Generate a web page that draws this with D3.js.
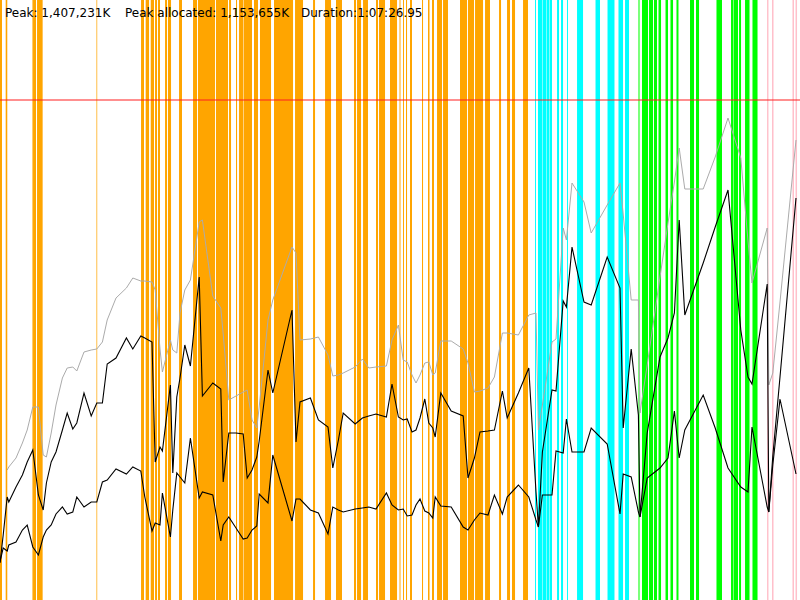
<!DOCTYPE html>
<html>
<head>
<meta charset="utf-8">
<script src="https://cdn.jsdelivr.net/npm/d3@7"></script>
<style>
  html, body { margin: 0; padding: 0; background: #fff; }
  svg { display: block; }
</style>
</head>
<body>
<div id="chart"></div>
<script>
// header figures
const peakK = 1407231
const peakAllocatedK = 1153655
const duration = '1:07:26.95'

// GC pauses, [start, end] as % of run time
const youngGcs = [
  [0, 0.25], [0.71, 0.91], [4.03, 4.1], [4.13, 4.5], [4.63, 5.33], [12.06, 12.15],
  [17.63, 18], [18.21, 18.63], [18.84, 19.25], [19.38, 19.63], [19.75, 20],
  [20.63, 20.88], [21, 21.38], [22.38, 22.75], [24.13, 24.63], [24.75, 26.88],
  [27, 28.5], [28.63, 28.88], [29.5, 29.63], [29.88, 30.38], [30.44, 31.5],
  [31.75, 32.25], [32.5, 33.88], [34.25, 36.63], [36.88, 37.88], [39.13, 39.38],
  [40.63, 41.38], [42, 42.75], [44.25, 44.5], [44.63, 45.13], [45.38, 46],
  [47, 47.25], [47.38, 48.13], [48.75, 49.63], [49.94, 50.06], [50.38, 50.5],
  [50.75, 50.88], [51.25, 51.5], [52.75, 52.88], [53.5, 53.69], [54, 54.25],
  [54.63, 55.25], [55.38, 56], [57.5, 58.38], [58.5, 59.25], [59.38, 60.38],
  [60.63, 61.25], [62.38, 62.63], [63.38, 63.75], [64, 64.38], [65.38, 66]
]
const mixedGcs = [
  [66.88, 67], [67.25, 67.75], [67.81, 68.25], [68.31, 68.63], [68.69, 69],
  [69.63, 69.88], [70.13, 70.38], [70.88, 71], [72.13, 72.88], [74.44, 75],
  [75.94, 76.81], [77.31, 77.88], [78.13, 78.63]
]
const remarkGcs = [
  [79.81, 79.94], [80.25, 81], [81.13, 81.63], [81.75, 82.13], [82.31, 82.63],
  [83.19, 83.5], [83.81, 84.13], [84.56, 84.81], [86.25, 86.75], [87, 87.38],
  [89.56, 90.25], [91.38, 91.69], [91.75, 92.25], [92.38, 92.63], [93.13, 93.69],
  [94.06, 94.69]
]
const fullGcs = [
  [95.88, 96.06], [96.5, 96.69], [99.06, 99.25], [99.44, 99.63]
]

// samples: time (% of run) and heap figures (% of max heap)
const sampleTime = [
  0, 0.4, 0.9, 1.1, 2.0, 2.8, 3.4, 4.1, 4.8, 5.4,
  5.8, 6.4, 7.0, 7.8, 8.4, 9.1, 9.6, 10.5, 11.4, 12.1,
  12.8, 13.4, 14.5, 15.8, 16.6, 17.6, 18.1, 19.0, 19.4, 20.0,
  20.3, 21.3, 21.6, 22.1, 22.5, 23.1, 23.8, 24.9, 25.3, 26.6,
  27.6, 27.9, 28.6, 29.5, 30.4, 30.9, 31.5, 32.1, 32.4, 33.5,
  34.1, 36.5, 37.0, 37.5, 38.8, 39.8, 41.0, 41.6, 42.3, 42.9,
  44.4, 45.3, 46.1, 47.0, 48.3, 49.0, 49.8, 50.4, 50.9, 51.5,
  52.0, 52.5, 53.1, 53.6, 54.1, 54.4, 55.1, 56.4, 57.9, 58.5,
  59.3, 60.0, 61.0, 61.8, 62.8, 63.4, 64.8, 66.1, 67.0, 67.3,
  67.8, 69.0, 69.5, 70.4, 70.8, 71.5, 73.0, 73.9, 75.9, 77.5,
  77.9, 78.9, 79.8, 80.0, 80.9, 82.5, 83.5, 84.3, 84.9, 85.6,
  87.9, 89.4, 91.0, 92.6, 93.5, 94.0, 95.9, 96.1, 96.6, 97.5,
  99.5
]
const committed = [
  null, null, 26, 26.6, 28.4, 31.4, 34, 38.6, 38.6, 29,
  28.6, 33.4, 39, 44.4, 46.4, 46.6, 45.8, 49.6, 50, 50.2,
  51.6, 56, 60.4, 62.4, 64.4, 63.8, 63.8, 63.6, 62, 50.2,
  45.6, 52, 50, 49.4, 57.4, 62, 64, 75.6, 76, 60.8,
  58.4, 53.2, 40, 40.8, 41.6, 42, 36, 34.4, 38.6, 56,
  60, 70.6, 69.4, 52, 52.2, 52.6, 49, 44.8, 45, 45.4,
  46.6, 48.2, 46.4, 46.6, 46.8, 52, 55, 48, 47.6, 45,
  43.4, 45, 47.4, 47.6, 45, 45.4, 51.8, 51.8, 50.2, 47.4,
  41.6, 41.8, 42.4, 44.6, 53.4, 53.4, 53, 57, 57.4, 34,
  39, 51.6, 52.2, 74.4, 72, 83.4, 79.6, 73.4, 79, 83.4,
  77.2, 60, 60, 37.4, 47, 64.6, 75.4, 83.6, 90.4, 82.2,
  82.2, 88.6, 96.4, 88.4, 71.8, 63.4, 74.4, 43, 45.4, 59.6,
  92
]
const used = [
  7.4, 13, 20.6, 19.6, 22.6, 25, 27.6, 30, 21, 18,
  23.4, 27.6, 29.6, 34, 37.4, 34.2, 35.4, 41.4, 36.8, 39.4,
  39.4, 47.2, 48.4, 52.4, 50.2, 52.8, 52.4, 51.6, 27.6, 30.6,
  29.8, 43, 25.4, 40.6, 44.4, 51, 46.8, 64.6, 40.8, 43.4,
  42.2, 23.6, 33.4, 33.4, 33.2, 24.4, 26, 28.6, 31.8, 46,
  41.4, 58, 31.6, 39.6, 40.4, 36, 34.6, 26.4, 32, 37.4,
  35.2, 36.4, 36.8, 37.2, 36.6, 43.2, 36.6, 36, 36.2, 33.6,
  34, 36.4, 40.2, 35.4, 34.4, 32.6, 41.4, 37.8, 36.8, 24.4,
  28.4, 33.6, 33.8, 34, 41.8, 36.4, 41.4, 46.4, 21.6, 14.6,
  29.6, 42, 41.8, 59.8, 58.6, 70.6, 59.6, 59, 68.6, 62.4,
  34.4, 50.2, 37, 16.6, 33.4, 48.6, 52.4, 57.4, 76, 57,
  67.4, 74.6, 82, 54, 44.6, 43.2, 63.2, 17.6, 28.8, 44.6,
  80.4
]
const afterGc = [
  7.6, 10.4, 9.8, 11, 11.6, 14, 15, 10.6, 9, 12.6,
  14, 15, 17.2, 18.6, 17.2, 17.6, 20.6, 18.6, 19.6, 19.6,
  23.6, 24, 26.2, 25.2, 26.6, 25.8, 20.6, 13.8, 15.4, 15,
  21.4, 12.6, 18, 25.4, 24.6, 23.4, 32.4, 20.4, 21.6, 21,
  11.8, 15, 16.6, 14.4, 12.2, 12.4, 14, 14.8, 21.2, 19.4,
  29, 15.8, 20.2, 20.2, 18, 17.4, 13.2, 18.6, 18, 17.6,
  18.2, 18.4, 18.6, 18.2, 21.4, 19, 18, 18.2, 16.8, 17,
  19, 20.2, 17.8, 17.4, 16.4, 20.6, 18.8, 18.6, 14.6, 14,
  16, 17.4, 17, 21, 17.2, 20.6, 23, 20.6, 16, 14.6,
  21, 21, 29.8, 29.4, 36.2, 29.6, 29.6, 34.4, 31.2, 17.2,
  25.2, 24.6, 17.6, 16.6, 24.4, 26.4, 28.4, 37.8, 28.4, 34,
  41, 34.4, 26.4, 22.6, 21.6, 34.6, 18.6, 17.6, 27, 40.2,
  25.2
]
const maxHeapPct = 100

const width = 800
const height = 600

const fmt = d3.format(',')

const svg = d3.select('#chart').append('svg')
  .attr('width', width)
  .attr('height', height)

const x = d3.scaleLinear().domain([0, 100]).range([0, width])
const y = d3.scaleLinear().domain([0, maxHeapPct * 1.2]).range([height, 0])

// gc stripes, full height
const drawGcs = (events, color) => {
  svg.append('g')
    .selectAll('rect')
    .data(events)
    .enter()
      .append('rect')
      .attr('x', d => x(d[0]))
      .attr('y', 0)
      .attr('width', d => x(d[1]) - x(d[0]))
      .attr('height', height)
      .attr('fill', color)
}
drawGcs(youngGcs, '#ffa500')
drawGcs(mixedGcs, '#00ffff')
drawGcs(remarkGcs, '#00ff00')
drawGcs(fullGcs, '#ffc0cb')

// max heap
svg.append('line')
  .attr('x1', 0)
  .attr('x2', width)
  .attr('y1', y(maxHeapPct))
  .attr('y2', y(maxHeapPct))
  .attr('stroke', '#ff2020')
  .attr('stroke-width', 1.2)

const samples = sampleTime.map((t, i) => (
  {t: t, committed: committed[i], used: used[i], afterGc: afterGc[i]}
))

const drawSeries = (key, color, w) => {
  const line = d3.line()
    .defined(d => d[key] != null)
    .x(d => x(d.t))
    .y(d => y(d[key]))
  svg.append('path')
    .datum(samples)
    .attr('d', line)
    .attr('fill', 'none')
    .attr('stroke', color)
    .attr('stroke-width', w)
}
drawSeries('committed', '#ababab', 1)
drawSeries('used', '#000', 1.1)
drawSeries('afterGc', '#000', 1.1)

// header
const header = [
  {x: 5, text: 'Peak: ' + fmt(peakK) + 'K'},
  {x: 125, text: 'Peak allocated: ' + fmt(peakAllocatedK) + 'K'},
  {x: 301, text: 'Duration:' + duration}
]
svg.append('g')
  .selectAll('text')
  .data(header)
  .enter()
    .append('text')
    .attr('x', d => d.x)
    .attr('y', 17)
    .attr('font-family', '"DejaVu Sans", Verdana, sans-serif')
    .attr('font-size', 12)
    .attr('fill', '#000')
    .text(d => d.text)
</script>
</body>
</html>
